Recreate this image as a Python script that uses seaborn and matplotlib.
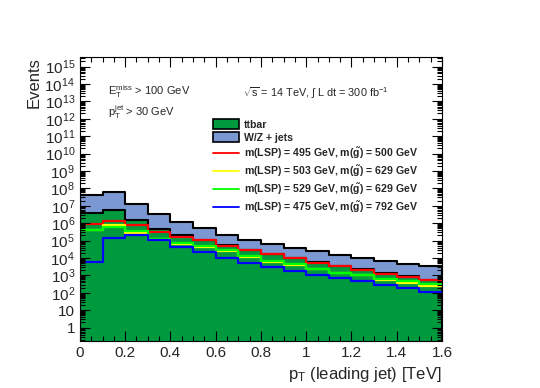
import numpy as np
import pandas as pd
import seaborn as sns
import matplotlib.pyplot as plt
from matplotlib.patches import Patch
from matplotlib.lines import Line2D
from matplotlib.ticker import LogLocator, FuncFormatter, MultipleLocator

sns.set_theme(style="ticks")
plt.rcParams['font.family'] = ['Liberation Sans', 'DejaVu Sans']
plt.rcParams['mathtext.fontset'] = 'custom'
plt.rcParams['mathtext.rm'] = 'Liberation Sans'
plt.rcParams['mathtext.it'] = 'Liberation Sans:italic'
plt.rcParams['mathtext.bf'] = 'Liberation Sans:bold'

# ---------------------------------------------
# data: 16 bins of 0.1 TeV, leading jet pT
# ---------------------------------------------
bin_edges = [0.0, 0.1, 0.2, 0.3, 0.4, 0.5, 0.6, 0.7, 0.8,
             0.9, 1.0, 1.1, 1.2, 1.3, 1.4, 1.5, 1.6]

ttbar = [3.9e6, 5.6e6, 1.6e6, 4.8e5, 2.2e5, 1.15e5, 5.6e4, 3.0e4,
         1.75e4, 1.0e4, 5.8e3, 3.7e3, 2.2e3, 1.35e3, 870, 560]
wzjets = [4.0e7, 5.6e7, 1.1e7, 2.9e6, 9.5e5, 3.85e5, 1.68e5, 8.0e4,
          4.45e4, 2.8e4, 1.82e4, 1.11e4, 8.3e3, 5.75e3, 3.93e3, 2.94e3]

sig_495_500 = [9.5e5, 1.4e6, 7.8e5, 3.2e5, 1.66e5, 1.07e5, 5.2e4, 2.75e4,
               1.62e4, 9.5e3, 5.2e3, 3.5e3, 2.0e3, 1.26e3, 810, 525]
sig_503_629 = [4.2e5, 7.4e5, 2.6e5, 1.17e5, 6.6e4, 4.5e4, 2.6e4, 1.2e4,
               6.3e3, 4.0e3, 2.24e3, 1.35e3, 1.0e3, 525, 355, 250]
sig_529_629 = [4.0e5, 5.9e5, 3.5e5, 1.32e5, 7.4e4, 5.0e4, 2.9e4, 1.29e4,
               6.8e3, 4.4e3, 2.45e3, 1.45e3, 1.02e3, 660, 450, 315]
sig_475_792 = [6.2e3, 1.45e5, 2.0e5, 1.02e5, 4.5e4, 2.3e4, 1.05e4, 5.4e3,
               3.1e3, 1.8e3, 1.1e3, 690, 450, 290, 200, 118]

signal_labels = [
    r"m(LSP) = 495 GeV, m($\mathbf{\tilde{g}}$) = 500 GeV",
    r"m(LSP) = 503 GeV, m($\mathbf{\tilde{g}}$) = 629 GeV",
    r"m(LSP) = 529 GeV, m($\mathbf{\tilde{g}}$) = 629 GeV",
    r"m(LSP) = 475 GeV, m($\mathbf{\tilde{g}}$) = 792 GeV",
]
signals = [sig_495_500, sig_503_629, sig_529_629, sig_475_792]
signal_colors = ["#ff0000", "#ffff00", "#00ff00", "#0000ff"]

green = "#009a3e"
blue = "#7b98d2"

edges = np.array(bin_edges)
centers = list((edges[:-1] + edges[1:]) / 2)

# stack: W/Z + jets sits on top of ttbar
stack = pd.DataFrame({"pt": centers, "ttbar": ttbar,
                      "total": np.array(ttbar) + np.array(wzjets)})

# ---------------------------------------------
# plot
# ---------------------------------------------
fig = plt.figure(figsize=(5.4, 3.88), dpi=100)
ax = fig.add_axes([0.148, 0.121, 0.6705, 0.732])

sns.histplot(data=stack, x="pt", weights="total", bins=bin_edges,
             element="step", fill=True, alpha=1, color=blue,
             edgecolor="black", linewidth=1.5, ax=ax)
sns.histplot(data=stack, x="pt", weights="ttbar", bins=bin_edges,
             element="step", fill=True, alpha=1, color=green,
             edgecolor="black", linewidth=1.5, ax=ax)

for vals, col in zip(signals, signal_colors):
    sig = pd.DataFrame({"pt": centers, "events": vals})
    sns.histplot(data=sig, x="pt", weights="events", bins=bin_edges,
                 element="step", fill=False, color=col, linewidth=1.6, ax=ax)

ax.set_yscale("log")
ax.set_xlim(0, 1.6)
ax.set_ylim(0.17, 3.5e15)
ax.set_axisbelow(False)

ax.xaxis.set_major_locator(MultipleLocator(0.2))
ax.xaxis.set_minor_locator(MultipleLocator(0.05))
ax.yaxis.set_major_locator(LogLocator(base=10, numticks=40))
ax.yaxis.set_minor_locator(LogLocator(base=10, subs=np.arange(2, 10), numticks=40))


def ylab(v, pos):
    n = int(round(np.log10(v)))
    if n == 0:
        return "1"
    if n == 1:
        return "10"
    return r"$\mathdefault{10^{%d}}$" % n


ax.yaxis.set_major_formatter(FuncFormatter(ylab))
ax.xaxis.set_major_formatter(FuncFormatter(lambda v, p: "%g" % round(v, 2)))
ax.tick_params(which="both", direction="in", top=True, right=True,
               labelsize=11, color="black")
ax.tick_params(which="major", length=7, width=0.8)
ax.tick_params(which="minor", length=3.5, width=0.8)
for s in ax.spines.values():
    s.set_linewidth(0.8)
    s.set_color("black")

ax.set_xlabel(r"$\mathdefault{p_T}$ (leading jet) [TeV]", loc="right", fontsize=12)
ax.set_ylabel("Events", loc="top", fontsize=12, labelpad=2)

ax.text(0.077, 0.878, r"$\mathdefault{E_T^{miss}}$ > 100 GeV",
        transform=ax.transAxes, fontsize=8, va="center")
ax.text(0.077, 0.805, r"$\mathdefault{p_T^{jet}}$ > 30 GeV",
        transform=ax.transAxes, fontsize=8, va="center")
ax.text(0.45, 0.873, r"$\mathdefault{\sqrt{s}}$ = 14 TeV, $\int$ L dt = 300 fb$^{\mathdefault{-1}}$",
        transform=ax.transAxes, fontsize=7.8, va="center")

handles = [Patch(facecolor=green, edgecolor="black", linewidth=1.2, label="ttbar"),
           Patch(facecolor=blue, edgecolor="black", linewidth=1.2, label="W/Z + jets")]
for lab, col in zip(signal_labels, signal_colors):
    handles.append(Line2D([], [], color=col, linewidth=1.3, label=lab))

ax.legend(handles=handles, loc="upper left", bbox_to_anchor=(0.355, 0.795),
          frameon=False, prop={"weight": "bold", "size": 7.6},
          handlelength=2.5, handleheight=1.0, labelspacing=0.25,
          handletextpad=0.5, borderaxespad=0)

plt.savefig("out.png", dpi=100)
